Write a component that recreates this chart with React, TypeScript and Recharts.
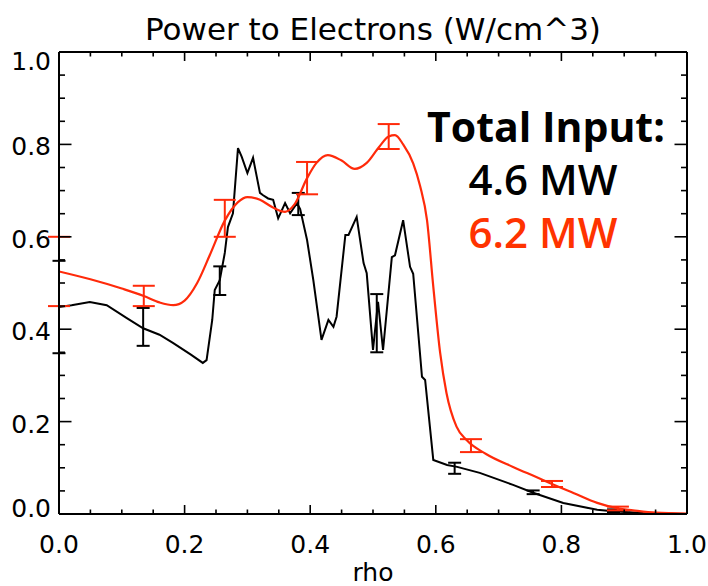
import React from "react";
import { ComposedChart, Line, Scatter, XAxis, YAxis, ErrorBar } from "recharts";

// rho values and power density (W/cm^3)
const redCurveRho = [0, 0.05, 0.1, 0.135, 0.16, 0.182, 0.2, 0.22, 0.24, 0.264, 0.285, 0.3, 0.32, 0.34, 0.36, 0.375, 0.395, 0.41, 0.428, 0.45, 0.471, 0.49, 0.51, 0.525, 0.535, 0.548, 0.564, 0.575, 0.586, 0.596, 0.607, 0.617, 0.633, 0.649, 0.68, 0.723, 0.76, 0.785, 0.82, 0.857, 0.89, 0.914, 0.95, 1.0];
const redCurveVal = [0.525, 0.508, 0.488, 0.472, 0.458, 0.452, 0.462, 0.5, 0.56, 0.635, 0.675, 0.686, 0.68, 0.664, 0.654, 0.67, 0.727, 0.76, 0.777, 0.765, 0.747, 0.76, 0.795, 0.817, 0.82, 0.8, 0.759, 0.71, 0.636, 0.492, 0.348, 0.262, 0.189, 0.16, 0.13, 0.102, 0.08, 0.065, 0.045, 0.024, 0.012, 0.008, 0.003, 0.001];

const blackCurveRho = [0, 0.02, 0.049, 0.076, 0.108, 0.134, 0.16, 0.182, 0.21, 0.229, 0.235, 0.244, 0.248, 0.256, 0.264, 0.269, 0.277, 0.285, 0.291, 0.3, 0.309, 0.32, 0.325, 0.333, 0.341, 0.349, 0.36, 0.368, 0.379, 0.384, 0.395, 0.405, 0.418, 0.429, 0.437, 0.442, 0.456, 0.461, 0.474, 0.485, 0.49, 0.5, 0.508, 0.516, 0.53, 0.535, 0.548, 0.559, 0.564, 0.578, 0.583, 0.596, 0.618, 0.634, 0.67, 0.723, 0.755, 0.803, 0.857, 0.882, 0.93, 1.0];
const blackCurveVal = [0.448, 0.452, 0.459, 0.452, 0.424, 0.402, 0.388, 0.37, 0.345, 0.327, 0.333, 0.42, 0.485, 0.506, 0.565, 0.621, 0.651, 0.792, 0.773, 0.738, 0.771, 0.695, 0.69, 0.683, 0.68, 0.64, 0.673, 0.651, 0.673, 0.66, 0.593, 0.506, 0.377, 0.42, 0.405, 0.427, 0.604, 0.604, 0.643, 0.543, 0.521, 0.355, 0.459, 0.355, 0.556, 0.56, 0.636, 0.535, 0.52, 0.297, 0.29, 0.117, 0.106, 0.102, 0.089, 0.063, 0.046, 0.024, 0.009, 0.006, 0.002, 0.0];

const redErrRho = [0.0, 0.135, 0.264, 0.395, 0.525, 0.656, 0.785, 0.89];
const redErrVal = [0.525, 0.472, 0.64, 0.727, 0.817, 0.148, 0.065, 0.012];
const redErrSize = [0.075, 0.022, 0.04, 0.035, 0.027, 0.014, 0.0065, 0.004];

const blackErrRho = [0.0, 0.134, 0.256, 0.381, 0.506, 0.63, 0.755, 0.883];
const blackErrVal = [0.448, 0.405, 0.505, 0.671, 0.413, 0.099, 0.047, 0.007];
const blackErrSize = [0.1, 0.041, 0.031, 0.024, 0.063, 0.012, 0.004, 0.003];

const axisTicks = [0, 0.05, 0.1, 0.15, 0.2, 0.25, 0.3, 0.35, 0.4, 0.45, 0.5, 0.55, 0.6, 0.65, 0.7, 0.75, 0.8, 0.85, 0.9, 0.95, 1.0];
const majorTickLabels = ["0.0", "0.2", "0.4", "0.6", "0.8", "1.0"];

const title = "Power to Electrons (W/cm^3)";
const xLabel = "rho";
const noteHeader = "Total Input:";
const noteBlack = "4.6 MW";
const noteRed = "6.2 MW";

const RED = "#ff2a0a";
const RED_TEXT = "#ff3300";

const redLine = redCurveRho.map((x, i) => ({ x, y: redCurveVal[i] }));
const blackLine = blackCurveRho.map((x, i) => ({ x, y: blackCurveVal[i] }));
const redErr = redErrRho.map((x, i) => ({ x, y: redErrVal[i], err: [redErrSize[i], redErrSize[i]] }));
const blackErr = blackErrRho.map((x, i) => ({ x, y: blackErrVal[i], err: [blackErrSize[i], blackErrSize[i]] }));

const FONT = "'DejaVu Sans', sans-serif";

const majorIndex = (v: number) => {
  const k = Math.round(v * 5);
  return Math.abs(v * 5 - k) < 1e-6 ? k : -1;
};

const BottomTick = (props: any) => {
  const { x, y, payload } = props;
  const k = majorIndex(payload.value);
  const len = k >= 0 ? 9 : 4.5;
  return (
    <g>
      <line x1={x} y1={y} x2={x} y2={y - len} stroke="#000" strokeWidth={1.6} />
      {k >= 0 && (
        <text x={x} y={y + 39} textAnchor="middle" fontFamily={FONT} fontSize={25} fill="#000">
          {majorTickLabels[k]}
        </text>
      )}
    </g>
  );
};

const TopTick = (props: any) => {
  const { x, y, payload } = props;
  const k = majorIndex(payload.value);
  const len = k >= 0 ? 9 : 4.5;
  return <line x1={x} y1={y} x2={x} y2={y + len} stroke="#000" strokeWidth={1.6} />;
};

const LeftTick = (props: any) => {
  const { x, y, payload } = props;
  const k = majorIndex(payload.value);
  const len = k >= 0 ? 12.5 : 6;
  let dy = 11;
  if (k === 5) dy = 18;
  if (k === 0) dy = 3;
  return (
    <g>
      <line x1={x} y1={y} x2={x + len} y2={y} stroke="#000" strokeWidth={1.6} />
      {k >= 0 && (
        <text x={x - 8} y={y + dy} textAnchor="end" fontFamily={FONT} fontSize={25} fill="#000">
          {majorTickLabels[k]}
        </text>
      )}
    </g>
  );
};

const RightTick = (props: any) => {
  const { x, y, payload } = props;
  const k = majorIndex(payload.value);
  const len = k >= 0 ? 12.5 : 6;
  return <line x1={x} y1={y} x2={x - len} y2={y} stroke="#000" strokeWidth={1.6} />;
};

const NoShape = () => <g />;

export default function App() {
  return (
    <div style={{ position: "absolute", left: 0, top: 0, width: 708, height: 586, background: "#fff" }}>
      <ComposedChart width={708} height={586} margin={{ top: 22, right: 11, bottom: 42, left: 19 }}>
        <XAxis xAxisId={0} type="number" dataKey="x" domain={[0, 1]} allowDataOverflow ticks={axisTicks} interval={0}
          height={30} tickSize={0} tickMargin={0} tickLine={false} tick={<BottomTick />}
          axisLine={{ stroke: "#000", strokeWidth: 2 }} />
        <XAxis xAxisId="top" orientation="top" type="number" dataKey="x" domain={[0, 1]} allowDataOverflow ticks={axisTicks} interval={0}
          height={30} tickSize={0} tickMargin={0} tickLine={false} tick={<TopTick />}
          axisLine={{ stroke: "#000", strokeWidth: 2 }} />
        <YAxis yAxisId={0} type="number" dataKey="y" domain={[0, 1]} allowDataOverflow ticks={axisTicks} interval={0}
          width={40} tickSize={0} tickMargin={0} tickLine={false} tick={<LeftTick />}
          axisLine={{ stroke: "#000", strokeWidth: 2 }} />
        <YAxis yAxisId="right" orientation="right" type="number" dataKey="y" domain={[0, 1]} allowDataOverflow ticks={axisTicks} interval={0}
          width={10} tickSize={0} tickMargin={0} tickLine={false} tick={<RightTick />}
          axisLine={{ stroke: "#000", strokeWidth: 2 }} />
        <Line data={blackLine} dataKey="y" type="linear" stroke="#000" strokeWidth={2} dot={false} isAnimationActive={false} />
        <Scatter data={blackErr} dataKey="y" shape={<NoShape />} isAnimationActive={false}>
          <ErrorBar dataKey="err" direction="y" width={6.5} stroke="#000" strokeWidth={2} isAnimationActive={false} />
        </Scatter>
        <Line data={redLine} dataKey="y" type="monotone" stroke={RED} strokeWidth={2.2} dot={false} isAnimationActive={false} />
        <Scatter data={redErr} dataKey="y" shape={<NoShape />} isAnimationActive={false}>
          <ErrorBar dataKey="err" direction="y" width={11} stroke={RED} strokeWidth={2} isAnimationActive={false} />
        </Scatter>
      </ComposedChart>
      <svg width={708} height={586} style={{ position: "absolute", left: 0, top: 0, pointerEvents: "none" }}>
        <text x={373} y={40} textAnchor="middle" fontFamily={FONT} fontSize={31} fill="#000">{title}</text>
        <text x={373} y={581} textAnchor="middle" fontFamily={FONT} fontSize={25} fill="#000">{xLabel}</text>
        <text x={546} y={142} textAnchor="middle" fontFamily="'Open Sans', sans-serif" fontWeight={700} fontSize={41} fill="#000">{noteHeader}</text>
        <text x={543} y={195} textAnchor="middle" fontFamily="'Open Sans', sans-serif" fontWeight={600} fontSize={42} fill="#000">{noteBlack}</text>
        <text x={543} y={248} textAnchor="middle" fontFamily="'Open Sans', sans-serif" fontWeight={600} fontSize={42} fill={RED_TEXT}>{noteRed}</text>
      </svg>
    </div>
  );
}
